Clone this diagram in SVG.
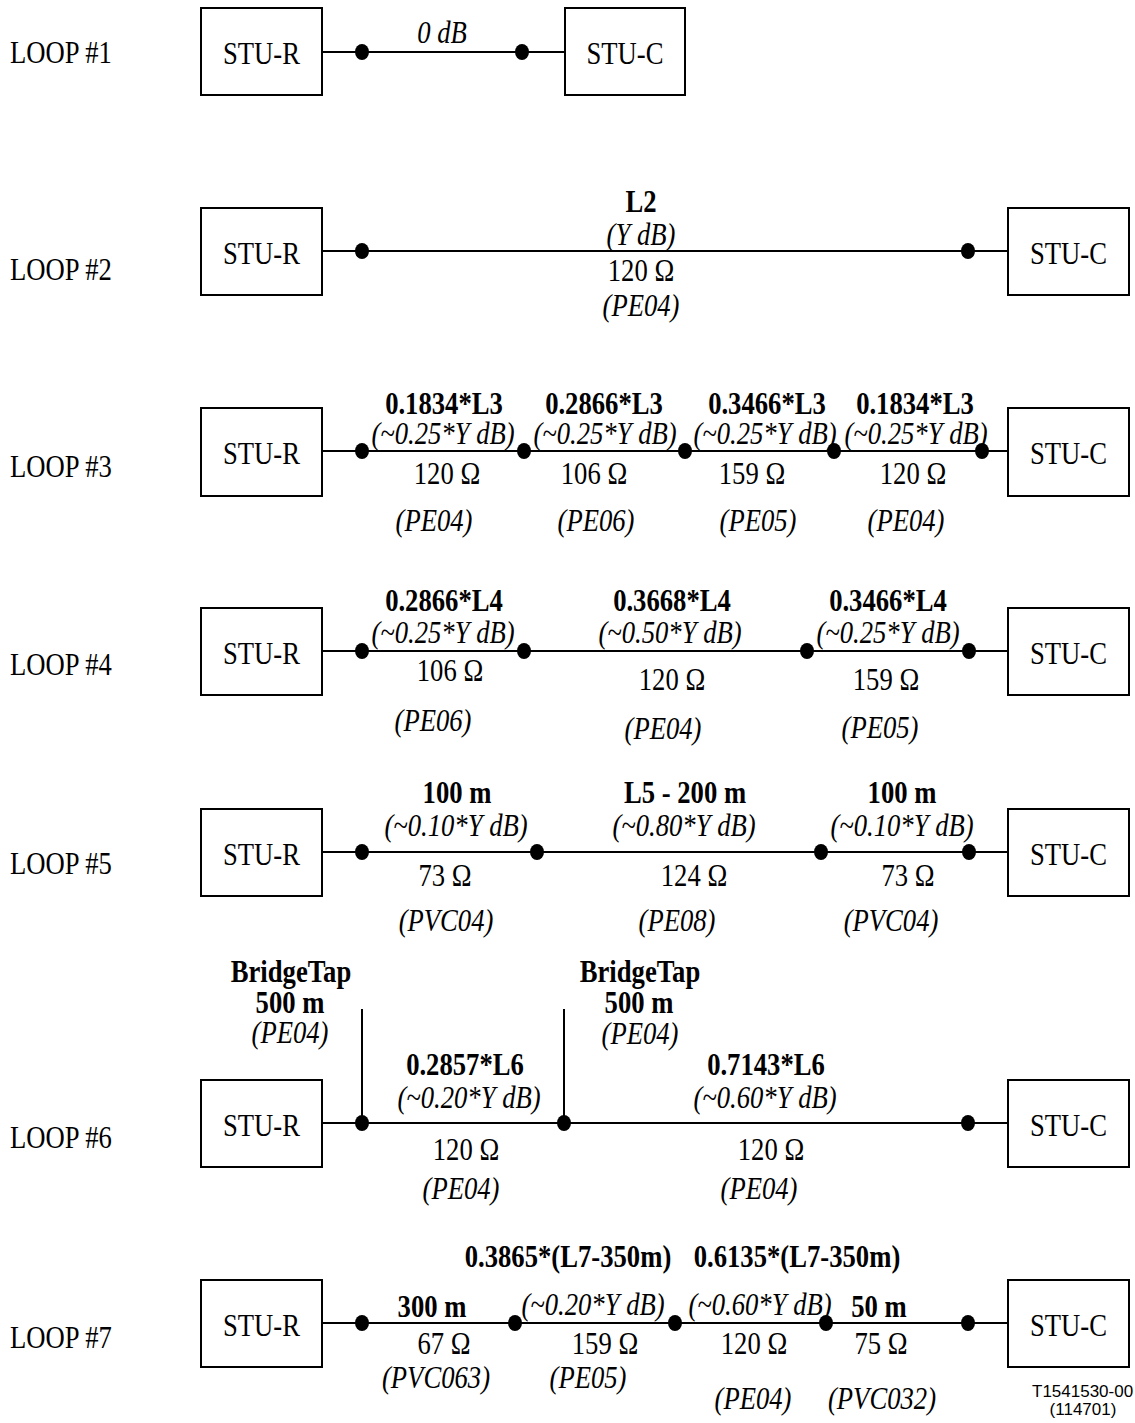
<svg xmlns="http://www.w3.org/2000/svg" width="1135" height="1423" viewBox="0 0 1135 1423">
<style>
.t{font-family:"Liberation Serif","Times New Roman",serif;font-size:31px;fill:#000;text-anchor:middle}
.b{font-weight:bold}
.i{font-style:italic}
.s{text-anchor:start}
.box{fill:#fff;stroke:#000;stroke-width:2}
.ln{stroke:#000;stroke-width:2;fill:none}
.dot{fill:#000}
.sm{font-family:"Liberation Sans",Arial,sans-serif;font-size:17px;fill:#000}
</style>
<defs>
<ellipse id="d" class="dot" cx="0" cy="0" rx="7" ry="8"/>
</defs>

<g id="connectors">
<!-- loop 1 -->
<line class="ln" x1="322" y1="52" x2="565" y2="52"/>
<use href="#d" x="362" y="52"/><use href="#d" x="522" y="52"/>
<!-- loop 2 -->
<line class="ln" x1="322" y1="251" x2="1008" y2="251"/>
<use href="#d" x="362" y="251"/><use href="#d" x="968" y="251"/>
<!-- loop 3 -->
<line class="ln" x1="322" y1="451" x2="1008" y2="451"/>
<use href="#d" x="362" y="451"/><use href="#d" x="524" y="451"/><use href="#d" x="685" y="451"/><use href="#d" x="834" y="451"/><use href="#d" x="982" y="451"/>
<!-- loop 4 -->
<line class="ln" x1="322" y1="651" x2="1008" y2="651"/>
<use href="#d" x="362" y="651"/><use href="#d" x="524" y="651"/><use href="#d" x="807" y="651"/><use href="#d" x="969" y="651"/>
<!-- loop 5 -->
<line class="ln" x1="322" y1="852" x2="1008" y2="852"/>
<use href="#d" x="362" y="852"/><use href="#d" x="537" y="852"/><use href="#d" x="821" y="852"/><use href="#d" x="969" y="852"/>
<!-- loop 6 -->
<line class="ln" x1="322" y1="1123" x2="1008" y2="1123"/>
<line class="ln" x1="362" y1="1009" x2="362" y2="1123"/>
<line class="ln" x1="564" y1="1009" x2="564" y2="1123"/>
<use href="#d" x="362" y="1123"/><use href="#d" x="564" y="1123"/><use href="#d" x="968" y="1123"/>
<!-- loop 7 -->
<line class="ln" x1="322" y1="1323" x2="1008" y2="1323"/>
<use href="#d" x="362" y="1323"/><use href="#d" x="515" y="1323"/><use href="#d" x="675" y="1323"/><use href="#d" x="826" y="1323"/><use href="#d" x="968" y="1323"/>
</g>

<!-- Loop 1 -->
<g id="loop1">
<text class="t s" transform="translate(10 63) scale(.86 1)">LOOP #1</text>
<g id="loop1-stur"><rect class="box" x="201" y="8" width="121" height="87"/><text class="t" transform="translate(261.5 63.5) scale(.86 1)">STU-R</text></g>
<g id="loop1-stuc"><rect class="box" x="565" y="8" width="120" height="87"/><text class="t" transform="translate(625 63.5) scale(.86 1)">STU-C</text></g>
<text class="t i" transform="translate(442 43) scale(.86 1)">0 dB</text>
</g>

<!-- Loop 2 -->
<g id="loop2">
<text class="t s" transform="translate(10 280) scale(.86 1)">LOOP #2</text>
<g id="loop2-stur"><rect class="box" x="201" y="208" width="121" height="87"/><text class="t" transform="translate(261.5 263.5) scale(.86 1)">STU-R</text></g>
<g id="loop2-stuc"><rect class="box" x="1008" y="208" width="121" height="87"/><text class="t" transform="translate(1068.5 263.5) scale(.86 1)">STU-C</text></g>
<text class="t b" transform="translate(641 212) scale(.86 1)">L2</text>
<text class="t i" transform="translate(641 245) scale(.86 1)">(Y dB)</text>
<text class="t" transform="translate(641 281) scale(.86 1)">120 Ω</text>
<text class="t i" transform="translate(641 316) scale(.86 1)">(PE04)</text>
</g>

<!-- Loop 3 -->
<g id="loop3">
<text class="t s" transform="translate(10 477) scale(.86 1)">LOOP #3</text>
<g id="loop3-stur"><rect class="box" x="201" y="408" width="121" height="88"/><text class="t" transform="translate(261.5 464) scale(.86 1)">STU-R</text></g>
<g id="loop3-stuc"><rect class="box" x="1008" y="408" width="121" height="88"/><text class="t" transform="translate(1068.5 464) scale(.86 1)">STU-C</text></g>
<text class="t b" transform="translate(444 414) scale(.86 1)">0.1834*L3</text>
<text class="t b" transform="translate(604 414) scale(.86 1)">0.2866*L3</text>
<text class="t b" transform="translate(767 414) scale(.86 1)">0.3466*L3</text>
<text class="t b" transform="translate(915 414) scale(.86 1)">0.1834*L3</text>
<text class="t i" transform="translate(443 444) scale(.86 1)">(~0.25*Y dB)</text>
<text class="t i" transform="translate(605 444) scale(.86 1)">(~0.25*Y dB)</text>
<text class="t i" transform="translate(765 444) scale(.86 1)">(~0.25*Y dB)</text>
<text class="t i" transform="translate(916 444) scale(.86 1)">(~0.25*Y dB)</text>
<text class="t" transform="translate(447 484) scale(.86 1)">120 Ω</text>
<text class="t" transform="translate(594 484) scale(.86 1)">106 Ω</text>
<text class="t" transform="translate(752 484) scale(.86 1)">159 Ω</text>
<text class="t" transform="translate(913 484) scale(.86 1)">120 Ω</text>
<text class="t i" transform="translate(434 531) scale(.86 1)">(PE04)</text>
<text class="t i" transform="translate(596 531) scale(.86 1)">(PE06)</text>
<text class="t i" transform="translate(758 531) scale(.86 1)">(PE05)</text>
<text class="t i" transform="translate(906 531) scale(.86 1)">(PE04)</text>
</g>

<!-- Loop 4 -->
<g id="loop4">
<text class="t s" transform="translate(10 675) scale(.86 1)">LOOP #4</text>
<g id="loop4-stur"><rect class="box" x="201" y="608" width="121" height="87"/><text class="t" transform="translate(261.5 663.5) scale(.86 1)">STU-R</text></g>
<g id="loop4-stuc"><rect class="box" x="1008" y="608" width="121" height="87"/><text class="t" transform="translate(1068.5 663.5) scale(.86 1)">STU-C</text></g>
<text class="t b" transform="translate(444 611) scale(.86 1)">0.2866*L4</text>
<text class="t b" transform="translate(672 611) scale(.86 1)">0.3668*L4</text>
<text class="t b" transform="translate(888 611) scale(.86 1)">0.3466*L4</text>
<text class="t i" transform="translate(443 643) scale(.86 1)">(~0.25*Y dB)</text>
<text class="t i" transform="translate(670 643) scale(.86 1)">(~0.50*Y dB)</text>
<text class="t i" transform="translate(888 643) scale(.86 1)">(~0.25*Y dB)</text>
<text class="t" transform="translate(450 681) scale(.86 1)">106 Ω</text>
<text class="t" transform="translate(672 690) scale(.86 1)">120 Ω</text>
<text class="t" transform="translate(886 690) scale(.86 1)">159 Ω</text>
<text class="t i" transform="translate(433 731) scale(.86 1)">(PE06)</text>
<text class="t i" transform="translate(663 739) scale(.86 1)">(PE04)</text>
<text class="t i" transform="translate(880 738) scale(.86 1)">(PE05)</text>
</g>

<!-- Loop 5 -->
<g id="loop5">
<text class="t s" transform="translate(10 874) scale(.86 1)">LOOP #5</text>
<g id="loop5-stur"><rect class="box" x="201" y="809" width="121" height="87"/><text class="t" transform="translate(261.5 864.5) scale(.86 1)">STU-R</text></g>
<g id="loop5-stuc"><rect class="box" x="1008" y="809" width="121" height="87"/><text class="t" transform="translate(1068.5 864.5) scale(.86 1)">STU-C</text></g>
<text class="t b" transform="translate(457 803) scale(.86 1)">100 m</text>
<text class="t b" transform="translate(685 803) scale(.86 1)">L5 - 200 m</text>
<text class="t b" transform="translate(902 803) scale(.86 1)">100 m</text>
<text class="t i" transform="translate(456 836) scale(.86 1)">(~0.10*Y dB)</text>
<text class="t i" transform="translate(684 836) scale(.86 1)">(~0.80*Y dB)</text>
<text class="t i" transform="translate(902 836) scale(.86 1)">(~0.10*Y dB)</text>
<text class="t" transform="translate(445 886) scale(.86 1)">73 Ω</text>
<text class="t" transform="translate(694 886) scale(.86 1)">124 Ω</text>
<text class="t" transform="translate(908 886) scale(.86 1)">73 Ω</text>
<text class="t i" transform="translate(446 931) scale(.86 1)">(PVC04)</text>
<text class="t i" transform="translate(677 931) scale(.86 1)">(PE08)</text>
<text class="t i" transform="translate(891 931) scale(.86 1)">(PVC04)</text>
</g>

<!-- Loop 6 -->
<g id="loop6">
<text class="t s" transform="translate(10 1148) scale(.86 1)">LOOP #6</text>
<g id="loop6-stur"><rect class="box" x="201" y="1080" width="121" height="87"/><text class="t" transform="translate(261.5 1135.5) scale(.86 1)">STU-R</text></g>
<g id="loop6-stuc"><rect class="box" x="1008" y="1080" width="121" height="87"/><text class="t" transform="translate(1068.5 1135.5) scale(.86 1)">STU-C</text></g>
<text class="t b" transform="translate(291 982) scale(.86 1)">BridgeTap</text>
<text class="t b" transform="translate(290 1013) scale(.86 1)">500 m</text>
<text class="t i" transform="translate(290 1043) scale(.86 1)">(PE04)</text>
<text class="t b" transform="translate(640 982) scale(.86 1)">BridgeTap</text>
<text class="t b" transform="translate(639 1013) scale(.86 1)">500 m</text>
<text class="t i" transform="translate(640 1044) scale(.86 1)">(PE04)</text>
<text class="t b" transform="translate(465 1075) scale(.86 1)">0.2857*L6</text>
<text class="t i" transform="translate(469 1108) scale(.86 1)">(~0.20*Y dB)</text>
<text class="t b" transform="translate(766 1075) scale(.86 1)">0.7143*L6</text>
<text class="t i" transform="translate(765 1108) scale(.86 1)">(~0.60*Y dB)</text>
<text class="t" transform="translate(466 1160) scale(.86 1)">120 Ω</text>
<text class="t" transform="translate(771 1160) scale(.86 1)">120 Ω</text>
<text class="t i" transform="translate(461 1199) scale(.86 1)">(PE04)</text>
<text class="t i" transform="translate(759 1199) scale(.86 1)">(PE04)</text>
</g>

<!-- Loop 7 -->
<g id="loop7">
<text class="t s" transform="translate(10 1348) scale(.86 1)">LOOP #7</text>
<g id="loop7-stur"><rect class="box" x="201" y="1280" width="121" height="87"/><text class="t" transform="translate(261.5 1335.5) scale(.86 1)">STU-R</text></g>
<g id="loop7-stuc"><rect class="box" x="1008" y="1280" width="121" height="87"/><text class="t" transform="translate(1068.5 1335.5) scale(.86 1)">STU-C</text></g>
<text class="t b" transform="translate(568 1267) scale(.86 1)">0.3865*(L7-350m)</text>
<text class="t b" transform="translate(797 1267) scale(.86 1)">0.6135*(L7-350m)</text>
<text class="t b" transform="translate(432 1317) scale(.86 1)">300 m</text>
<text class="t i" transform="translate(593 1315) scale(.86 1)">(~0.20*Y dB)</text>
<text class="t i" transform="translate(760 1315) scale(.86 1)">(~0.60*Y dB)</text>
<text class="t b" transform="translate(879 1317) scale(.86 1)">50 m</text>
<text class="t" transform="translate(444 1354) scale(.86 1)">67 Ω</text>
<text class="t" transform="translate(605 1354) scale(.86 1)">159 Ω</text>
<text class="t" transform="translate(754 1354) scale(.86 1)">120 Ω</text>
<text class="t" transform="translate(881 1354) scale(.86 1)">75 Ω</text>
<text class="t i" transform="translate(436 1388) scale(.86 1)">(PVC063)</text>
<text class="t i" transform="translate(588 1388) scale(.86 1)">(PE05)</text>
<text class="t i" transform="translate(753 1409) scale(.86 1)">(PE04)</text>
<text class="t i" transform="translate(882 1409) scale(.86 1)">(PVC032)</text>
</g>

<g id="figure-id">
<text class="sm" x="1032" y="1397">T1541530-00</text>
<text class="sm" x="1083" y="1415" text-anchor="middle">(114701)</text>
</g>
</svg>
